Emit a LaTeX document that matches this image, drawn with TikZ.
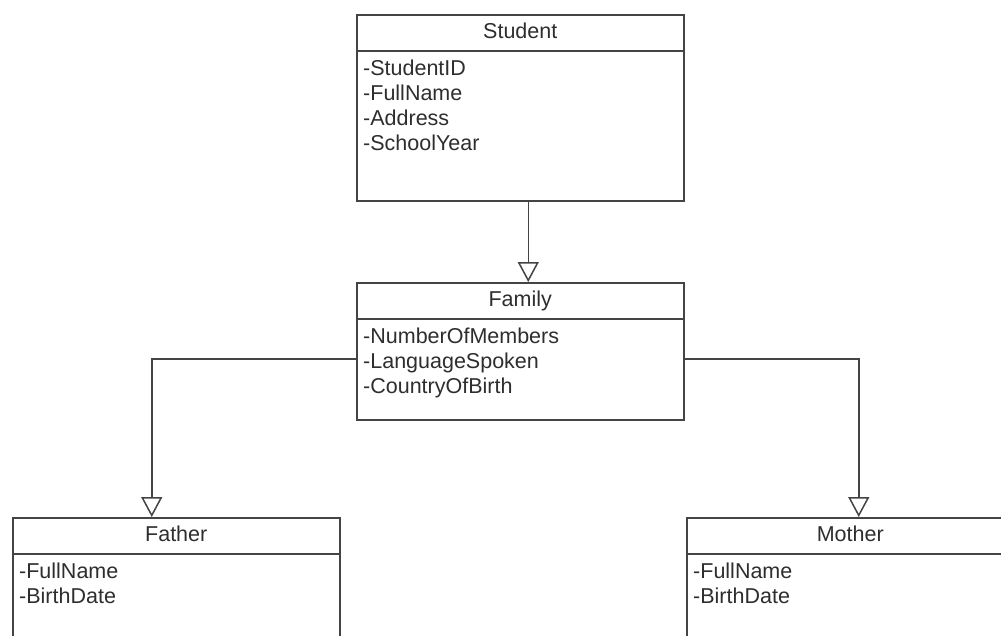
\documentclass[tikz,border=0pt]{standalone}
\usepackage{fontspec}
\setmainfont{Liberation Sans}
\usepackage{tikz}
\usetikzlibrary{shapes}
\usetikzlibrary{positioning, arrows.meta}

\definecolor{umlline}{HTML}{444444}
\definecolor{umltext}{HTML}{2E2E2E}

\tikzset{
  classbox/.style={draw=umlline, line width=1.5pt, rectangle, anchor=north west, minimum width=327pt, inner sep=0pt},
  classname/.style={draw=umlline, line width=1.5pt, minimum width=327pt, minimum height=36pt, inner sep=0pt, text height=15pt, text depth=4pt, text=umltext, font=\fontsize{21.5}{25}\selectfont},
  attrs/.style={align=left, inner xsep=7pt, inner ysep=8pt, text=umltext, font=\fontsize{21.5}{25}\selectfont},
  inherit/.style={draw=umlline, line width=1.5pt, -{Triangle[open, width=21pt, length=20pt]}},
}

\begin{document}
\begin{tikzpicture}[x=1pt, y=-1pt]
			\clip (0,0) rectangle (1001,635);
			\fill[white] (0,0) rectangle (1001,635);
			% classes
			\node[classbox, minimum height=186pt] (student) at (356,14) {};
			\node[classname, below=0pt of student.north] (studenthead) {Student};
			\node[attrs, below right=0pt and 0pt of studenthead.south west] (studentattrs) {-StudentID\\-FullName\\-Address\\-SchoolYear};
			\node[classbox, minimum height=137pt] (family) at (356,282) {};
			\node[classname, below=0pt of family.north] (familyhead) {Family};
			\node[attrs, below right=0pt and 0pt of familyhead.south west] (familyattrs) {-NumberOfMembers\\-LanguageSpoken\\-CountryOfBirth};
			\node[classbox, minimum height=140pt] (father) at (12,517) {};
			\node[classname, below=0pt of father.north] (fatherhead) {Father};
			\node[attrs, below right=0pt and 0pt of fatherhead.south west] (fatherattrs) {-FullName\\-BirthDate};
			\node[classbox, minimum height=140pt] (mother) at (686,517) {};
			\node[classname, below=0pt of mother.north] (motherhead) {Mother};
			\node[attrs, below right=0pt and 0pt of motherhead.south west] (motherattrs) {-FullName\\-BirthDate};
			% generalisations
			\draw[inherit] ([xshift=8pt]student.south) -- ([xshift=8pt]family.north);
			\draw[inherit] ([yshift=-7.5pt]family.west) -| ([xshift=-24.5pt]father.north);
			\draw[inherit] ([yshift=-7.5pt]family.east) -| ([xshift=8.5pt]mother.north);
		\end{tikzpicture}
\end{document}
